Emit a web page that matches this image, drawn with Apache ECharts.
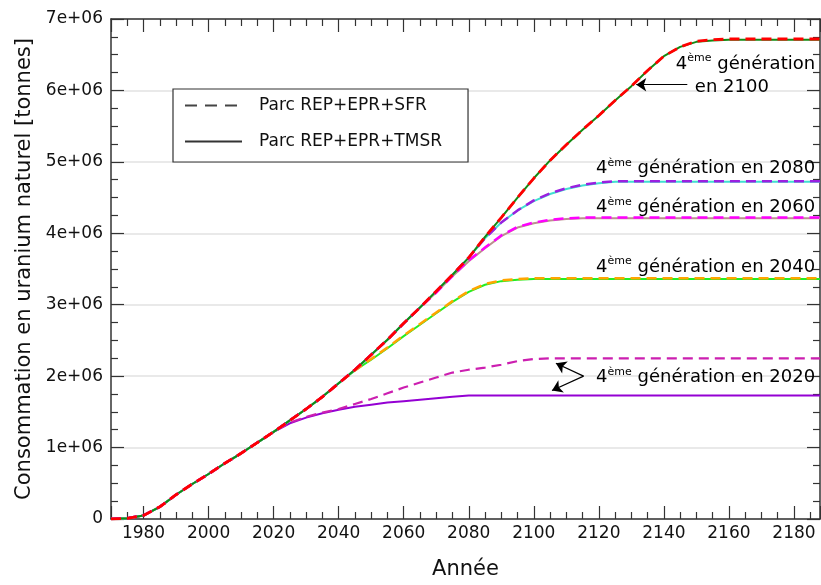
<!DOCTYPE html>
<html>
<head>
<meta charset="utf-8">
<script src="https://cdn.jsdelivr.net/npm/echarts@6/dist/echarts.min.js"></script>
<style>html,body{margin:0;padding:0;background:#fff}#c{width:821px;height:585px}</style>
</head>
<body>
<div id="c"></div>
<script>
// ---- Data (values in millions of tonnes) ----
const years = [1970,1975,1980,1985,1990,1995,2000,2005,2010,2015,2020,2025,2030,2035,2040,2045,2050,2055,2060,2065,2070,2075,2080,2085,2090,2095,2100,2105,2110,2115,2120,2125,2130,2135,2140,2145,2150,2155,2160,2165,2170,2175,2180,2185,2188];

const gen2100_SFR  = [0,0.01,0.05,0.17,0.34,0.49,0.63,0.78,0.92,1.07,1.22,1.38,1.54,1.71,1.90,2.09,2.30,2.51,2.74,2.96,3.19,3.42,3.66,3.95,4.22,4.50,4.77,5.02,5.24,5.45,5.65,5.86,6.06,6.28,6.48,6.61,6.69,6.71,6.72,6.72,6.72,6.72,6.72,6.72,6.72];
const gen2100_TMSR = [0,0.01,0.05,0.17,0.34,0.49,0.63,0.78,0.92,1.07,1.22,1.38,1.54,1.71,1.90,2.09,2.30,2.51,2.74,2.96,3.19,3.42,3.66,3.95,4.22,4.50,4.77,5.02,5.24,5.45,5.65,5.86,6.06,6.28,6.48,6.61,6.68,6.70,6.71,6.71,6.71,6.71,6.71,6.71,6.71];

const gen2080_SFR  = [0,0.01,0.05,0.17,0.34,0.49,0.63,0.78,0.92,1.07,1.22,1.38,1.54,1.71,1.90,2.09,2.30,2.51,2.74,2.96,3.19,3.42,3.66,3.93,4.15,4.32,4.46,4.56,4.63,4.68,4.71,4.73,4.73,4.73,4.73,4.73,4.73,4.73,4.73,4.73,4.73,4.73,4.73,4.73,4.73];
const gen2080_TMSR = [0,0.01,0.05,0.17,0.34,0.49,0.63,0.78,0.92,1.07,1.22,1.38,1.54,1.71,1.90,2.09,2.30,2.51,2.74,2.96,3.19,3.42,3.66,3.93,4.15,4.32,4.45,4.55,4.62,4.67,4.70,4.72,4.72,4.72,4.72,4.72,4.72,4.72,4.72,4.72,4.72,4.72,4.72,4.72,4.72];

const gen2060_SFR  = [0,0.01,0.05,0.17,0.34,0.49,0.63,0.78,0.92,1.07,1.22,1.38,1.54,1.71,1.90,2.09,2.30,2.51,2.74,2.96,3.17,3.40,3.62,3.80,3.97,4.09,4.15,4.19,4.21,4.22,4.22,4.22,4.22,4.22,4.22,4.22,4.22,4.22,4.22,4.22,4.22,4.22,4.22,4.22,4.22];
const gen2060_TMSR = [0,0.01,0.05,0.17,0.34,0.49,0.63,0.78,0.92,1.07,1.22,1.38,1.54,1.71,1.90,2.09,2.30,2.51,2.74,2.96,3.17,3.40,3.61,3.79,3.96,4.08,4.14,4.18,4.20,4.21,4.21,4.21,4.21,4.21,4.21,4.21,4.21,4.21,4.21,4.21,4.21,4.21,4.21,4.21,4.21];

const gen2040_SFR  = [0,0.01,0.05,0.17,0.34,0.49,0.63,0.78,0.92,1.07,1.22,1.38,1.54,1.71,1.90,2.08,2.24,2.40,2.57,2.73,2.89,3.05,3.19,3.29,3.34,3.36,3.37,3.37,3.37,3.37,3.37,3.37,3.37,3.37,3.37,3.37,3.37,3.37,3.37,3.37,3.37,3.37,3.37,3.37,3.37];
const gen2040_TMSR = [0,0.01,0.05,0.17,0.34,0.49,0.63,0.78,0.92,1.07,1.22,1.38,1.54,1.71,1.90,2.08,2.23,2.39,2.56,2.72,2.88,3.04,3.18,3.28,3.33,3.35,3.36,3.36,3.36,3.36,3.36,3.36,3.36,3.36,3.36,3.36,3.36,3.36,3.36,3.36,3.36,3.36,3.36,3.36,3.36];

const gen2020_SFR  = [0,0.01,0.05,0.17,0.34,0.49,0.63,0.78,0.92,1.07,1.22,1.35,1.43,1.49,1.54,1.61,1.68,1.76,1.84,1.91,1.98,2.05,2.09,2.12,2.16,2.21,2.24,2.25,2.25,2.25,2.25,2.25,2.25,2.25,2.25,2.25,2.25,2.25,2.25,2.25,2.25,2.25,2.25,2.25,2.25];
const gen2020_TMSR = [0,0.01,0.05,0.17,0.34,0.49,0.63,0.78,0.92,1.07,1.22,1.34,1.42,1.48,1.53,1.57,1.60,1.63,1.65,1.67,1.69,1.71,1.73,1.73,1.73,1.73,1.73,1.73,1.73,1.73,1.73,1.73,1.73,1.73,1.73,1.73,1.73,1.73,1.73,1.73,1.73,1.73,1.73,1.73,1.73];

const yTicks = [0,1,2,3,4,5,6,7];
const legendNames = ['Parc REP+EPR+SFR', 'Parc REP+EPR+TMSR'];

// Annotation text anchors [year, millions]
const annotations = [
  {parts: ['4', 'ème', ' génération'], at: [2186.5, 6.37], align: 'right'},
  {parts: ['', '', 'en 2100'], at: [2160.9, 6.04], align: 'center'},
  {parts: ['4', 'ème', ' génération en 2080'], at: [2186.5, 4.91], align: 'right'},
  {parts: ['4', 'ème', ' génération en 2060'], at: [2186.5, 4.36], align: 'right'},
  {parts: ['4', 'ème', ' génération en 2040'], at: [2186.5, 3.53], align: 'right'},
  {parts: ['4', 'ème', ' génération en 2020'], at: [2186.5, 1.98], align: 'right'}
];
// Arrows: [tail, tip] in [year, millions]
const arrows = [
  [[2147.2, 6.08], [2131.5, 6.08]],
  [[2115.3, 2.00], [2106.8, 2.18]],
  [[2115.3, 2.00], [2105.6, 1.80]]
];

const FONT = 'DejaVu Sans';
const M = 1e6;
function pairs(vals) { return years.map((y, i) => [y, vals[i] * M]); }

function lineSeries(name, vals, color, dashed, width) {
  return {
    name: name, type: 'line', data: pairs(vals), showSymbol: false, symbol: 'none',
    smooth: false, silent: true,
    lineStyle: {color: color, width: width, type: dashed ? [10, 6] : 'solid', cap: 'butt'},
    itemStyle: {color: color}
  };
}

const series = [
  lineSeries('s2020t', gen2020_TMSR, '#9400d3', false, 2),
  lineSeries('s2040t', gen2040_TMSR, '#22ee22', false, 2),
  lineSeries('s2060t', gen2060_TMSR, '#bc8f8f', false, 2),
  lineSeries('s2080t', gen2080_TMSR, '#40e0d0', false, 2),
  lineSeries('s2100t', gen2100_TMSR, '#138a13', false, 2),
  lineSeries('s2020s', gen2020_SFR, '#cc1fb0', true, 2.2),
  lineSeries('s2040s', gen2040_SFR, '#ffa500', true, 2.5),
  lineSeries('s2060s', gen2060_SFR, '#ff00ff', true, 2.5),
  lineSeries('s2080s', gen2080_SFR, '#9a20e0', true, 2.5),
  lineSeries('s2100s', gen2100_SFR, '#ff0000', true, 2.8),
  {name: legendNames[0], type: 'line', data: [], symbol: 'none', showSymbol: false,
   lineStyle: {color: '#444', width: 2, type: [12, 8]}, itemStyle: {color: '#444'}},
  {name: legendNames[1], type: 'line', data: [], symbol: 'none', showSymbol: false,
   lineStyle: {color: '#333', width: 2, type: 'solid'}, itemStyle: {color: '#333'}},
  {name: 'arrows', type: 'line', data: [], symbol: 'none',
   markLine: {
     silent: true, symbol: ['none', 'arrow'], symbolSize: 10,
     label: {show: false},
     lineStyle: {color: '#000', width: 1.2, type: 'solid'},
     data: arrows.map(a => [{coord: [a[0][0], a[0][1] * M]}, {coord: [a[1][0], a[1][1] * M]}])
   }}
];

const axisLineStyle = {color: '#333', width: 1.5};
function xAxisDef(pos, labels) {
  return {
    type: 'value', position: pos, min: 1970, max: 2188, splitNumber: 10, minInterval: 20, maxInterval: 20,
    axisLine: {show: true, onZero: false, lineStyle: axisLineStyle},
    axisTick: {show: true, inside: false, length: -13, lineStyle: {color: '#333', width: 1.2}},
    minorTick: {show: true, splitNumber: 4, length: -7, lineStyle: {color: '#333', width: 1.2}},
    axisLabel: {show: labels, showMinLabel: false, showMaxLabel: false, margin: 6, fontSize: 17, fontFamily: FONT, color: '#111',
      formatter: v => String(v)},
    splitLine: {show: false},
    name: labels ? 'Année' : '', nameLocation: 'middle', nameGap: 40,
    nameTextStyle: {fontSize: 21, fontFamily: FONT, color: '#111'}
  };
}
function yAxisDef(pos, labels) {
  return {
    type: 'value', position: pos, min: yTicks[0] * M, max: yTicks[yTicks.length - 1] * M, interval: M,
    axisLine: {show: true, onZero: false, lineStyle: axisLineStyle},
    axisTick: {show: true, inside: false, length: -13, lineStyle: {color: '#333', width: 1.2}},
    minorTick: {show: true, splitNumber: 4, length: -7, lineStyle: {color: '#333', width: 1.2}},
    axisLabel: {show: labels, margin: 8, fontSize: 17, fontFamily: FONT, color: '#111',
      formatter: v => v === 0 ? '0' : (v / M) + 'e+06'},
    splitLine: {show: labels, lineStyle: {color: '#e2e2e2', width: 1.5}},
    name: labels ? 'Consommation en uranium naturel [tonnes]' : '', nameLocation: 'middle', nameGap: 76,
    nameTextStyle: {fontSize: 21, fontFamily: FONT, color: '#111'}
  };
}

const chart = echarts.init(document.getElementById('c'), null, {renderer: 'canvas'});
chart.setOption({
  animation: false,
  backgroundColor: '#fff',
  grid: {left: 111, right: 1, top: 19, bottom: 66, containLabel: false},
  xAxis: [xAxisDef('bottom', true), xAxisDef('top', false)],
  yAxis: [yAxisDef('left', true), yAxisDef('right', false)],
  legend: {
    data: legendNames, orient: 'vertical', left: 173, top: 89,
    backgroundColor: '#fff', borderColor: '#333', borderWidth: 1.2, borderRadius: 0,
    padding: [8, 26, 12, 11], itemWidth: 57, itemHeight: 14, itemGap: 19,
    selectedMode: false,
    itemStyle: {opacity: 0},
    textStyle: {fontSize: 17, fontFamily: FONT, color: '#111', padding: [0, 0, 0, 12]}
  },
  series: series
});

// Annotation texts positioned from data coordinates
const richStyles = {
  n: {fontSize: 18, fontFamily: FONT, lineHeight: 22, fill: '#000', color: '#000'},
  s: {fontSize: 11, fontFamily: FONT, lineHeight: 10, verticalAlign: 'top', fill: '#000', color: '#000'}
};
const graphics = annotations.map(a => {
  const p = chart.convertToPixel({gridIndex: 0}, [a.at[0], a.at[1] * M]);
  let txt = '';
  if (a.parts[0]) txt += '{n|' + a.parts[0] + '}';
  if (a.parts[1]) txt += '{s|' + a.parts[1] + '}';
  txt += '{n|' + a.parts[2] + '}';
  return {
    type: 'text', x: p[0], y: p[1], silent: true, z: 100,
    style: {text: txt, rich: richStyles, align: a.align, verticalAlign: 'middle', fill: '#000',
            font: '18px ' + FONT}
  };
});
chart.setOption({graphic: graphics});
</script>
</body>
</html>
